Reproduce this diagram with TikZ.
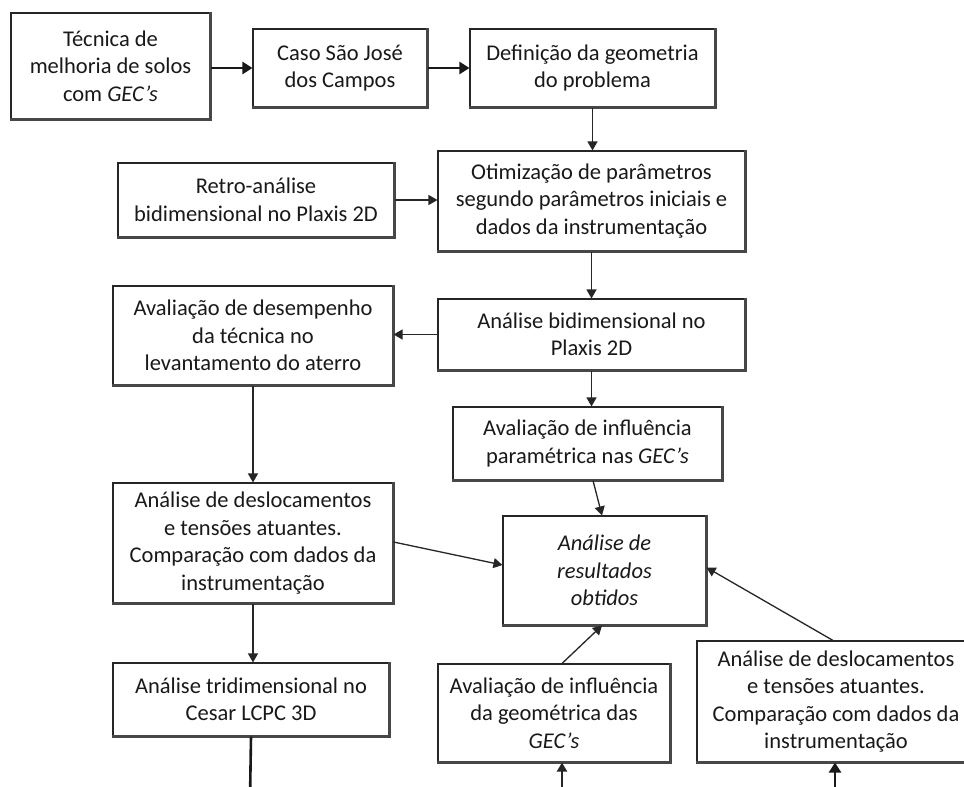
\documentclass[tikz,border=0pt]{standalone}
\usepackage{fontspec}
\setmainfont{Carlito}
\usetikzlibrary{arrows.meta}
\tikzset{
  box/.style={draw=black!85, line width=1.1pt, fill=white, align=center, inner sep=0pt,
    text=black!90, font=\fontsize{22.5}{27.5}\selectfont},
  edgeshade/.style={draw=black!72, line width=2.4pt},
  thinarrow/.style={draw=black!85, line width=1.3pt, -{Triangle[length=9pt,width=10pt]}},
  thickarrow/.style={draw=black!90, line width=2.6pt, -{Triangle[length=10pt,width=12pt]}},
  thickline/.style={draw=black!90, line width=2.6pt},
}
\begin{document}
\begin{tikzpicture}[x=1pt,y=-1pt]
\clip (0,0) rectangle (964,787);
\fill[white] (0,0) rectangle (964,787);

\node[box, minimum width=199pt, minimum height=106pt] (n1) at (110.5,66) {Técnica de\\melhoria de solos\\com \textit{GEC’s}};
\node[box, minimum width=174pt, minimum height=78pt] (n2) at (340,68) {Caso São José\\dos Campos};
\node[box, minimum width=245pt, minimum height=78pt] (n3) at (592.5,68) {Definição da geometria\\do problema};
\node[box, minimum width=276pt, minimum height=74pt] (n4) at (256,200) {Retro-análise\\bidimensional no Plaxis 2D};
\node[box, minimum width=307pt, minimum height=100pt] (n5) at (591.5,201) {Otimização de parâmetros\\segundo parâmetros iniciais e\\dados da instrumentação};
\node[box, minimum width=307pt, minimum height=71pt] (n6) at (591.5,334.5) {Análise bidimensional no\\Plaxis 2D};
\node[box, minimum width=280pt, minimum height=99pt] (n7) at (253,335.5) {Avaliação de desempenho\\da técnica no\\levantamento do aterro};
\node[box, minimum width=269pt, minimum height=73pt] (n8) at (587.5,443.5) {Avaliação de influência\\paramétrica nas \textit{GEC’s}};
\node[box, minimum width=280pt, minimum height=120pt] (n9) at (253,543) {Análise de deslocamentos\\e tensões atuantes.\\Comparação com dados da\\instrumentação};
\node[box, minimum width=203pt, minimum height=109pt] (n10) at (604.5,570.5) {\textit{Análise de}\\\textit{resultados}\\\textit{obtidos}};
\node[box, minimum width=232pt, minimum height=98pt] (n11) at (554,713) {Avaliação de influência\\da geométrica das\\\textit{GEC’s}};
\node[box, minimum width=278pt, minimum height=121pt] (n12) at (836,701.5) {Análise de deslocamentos\\e tensões atuantes.\\Comparação com dados da\\instrumentação};
\node[box, minimum width=276pt, minimum height=73pt] (n13) at (251,699.5) {Análise tridimensional no\\Cesar LCPC 3D};

\foreach \n in {n1,n2,n3,n4,n5,n6,n7,n8,n9,n10,n11,n12,n13}
  \draw[edgeshade] (\n.south west) -- (\n.south east) -- (\n.north east);

\coordinate (e13) at (250,800);
\coordinate (b11) at (562,800);
\coordinate (b12) at (835,800);

\draw[thickarrow] (n1.east |- n2) -- (n2.west);
\draw[thickarrow] (n2.east) -- (n3.west);
\draw[thinarrow] (n3.south) -- (n3.south |- n5.north);
\draw[thinarrow] (n4.east) -- (n4.east -| n5.west);
\draw[thinarrow] (n5.south) -- (n6.north);
\draw[thinarrow] (n6.west) -- (n6.west -| n7.east);
\draw[thinarrow] (n6.south) -- (n6.south |- n8.north);
\draw[thinarrow] (n7.south) -- (n9.north);
\draw[thinarrow] ([xshift=5.5pt]n8.south) -- ([xshift=-2.5pt]n10.north);
\draw[thinarrow] ([yshift=1pt]n9.east) -- ([yshift=5.5pt]n10.west);
\draw[thinarrow] ([xshift=-3pt]n12.north) -- ([yshift=3pt]n10.east);
\draw[thinarrow] ([xshift=8pt]n11.north) -- ([xshift=-2.5pt]n10.south);
\draw[thinarrow] (n9.south) -- (n9.south |- n13.north);
\draw[thickline] (n13.south) -- (e13);
\draw[thinarrow, line width=2pt] (b11) -- (b11 |- n11.south);
\draw[thickarrow] (b12) -- (b12 |- n12.south);
\end{tikzpicture}
\end{document}
